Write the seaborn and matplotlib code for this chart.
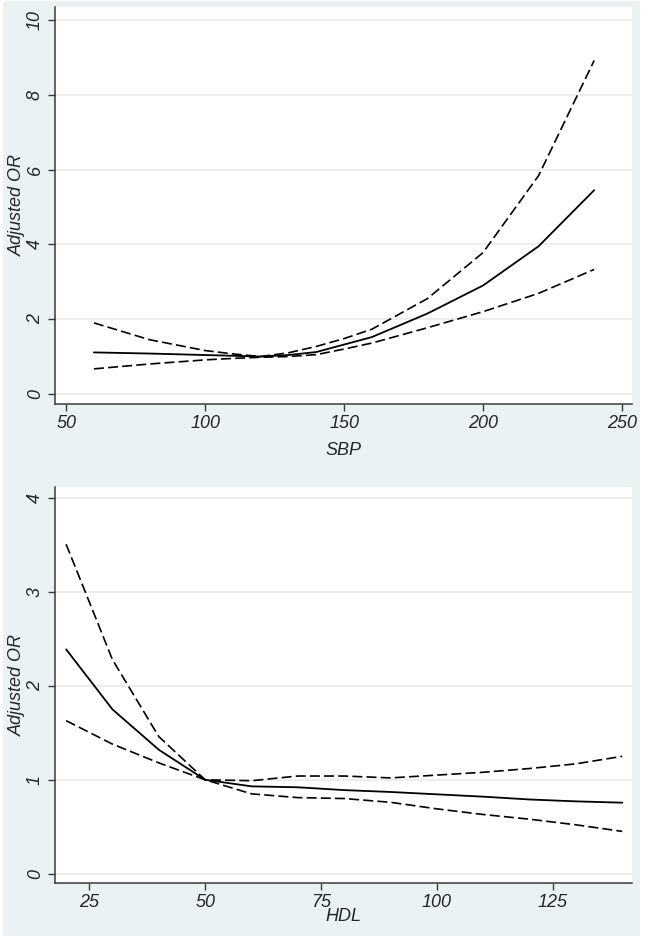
import numpy as np
import pandas as pd
import seaborn as sns
import matplotlib.pyplot as plt
from matplotlib.patches import Rectangle

## data
sbp_x = [60, 80, 100, 110, 120, 130, 140, 150, 160, 180, 200, 220, 240]
sbp_or = [1.11, 1.08, 1.04, 1.02, 1.00, 1.04, 1.12, 1.32, 1.52, 2.15, 2.90, 3.95, 5.45]
sbp_upper = [1.90, 1.45, 1.16, 1.07, 1.00, 1.10, 1.27, 1.48, 1.73, 2.55, 3.78, 5.84, 8.92]
sbp_lower = [0.67, 0.80, 0.91, 0.95, 0.98, 1.00, 1.05, 1.20, 1.36, 1.77, 2.20, 2.69, 3.33]

hdl_x = [20, 30, 40, 50, 60, 70, 80, 90, 100, 110, 120, 130, 140]
hdl_or = [2.39, 1.75, 1.32, 1.00, 0.93, 0.92, 0.89, 0.87, 0.845, 0.82, 0.79, 0.77, 0.756]
hdl_upper = [3.51, 2.28, 1.46, 1.00, 0.99, 1.04, 1.04, 1.02, 1.05, 1.08, 1.12, 1.17, 1.25]
hdl_lower = [1.63, 1.38, 1.18, 1.00, 0.85, 0.81, 0.80, 0.76, 0.69, 0.63, 0.58, 0.52, 0.45]

sbp_ticks = [50, 100, 150, 200, 250]
sbp_yticks = [0, 2, 4, 6, 8, 10]
hdl_ticks = [25, 50, 75, 100, 125]
hdl_yticks = [0, 1, 2, 3, 4]

bg = '#EAF2F3'
grid_col = '#E6EEF0'
axis_col = '#3A3A3A'

sns.set_style('white')
plt.rcParams['font.family'] = ['Liberation Sans', 'DejaVu Sans']

fig = plt.figure(figsize=(6.47, 9.40), dpi=100)
fig.patch.set_facecolor('white')
fig.patches.append(Rectangle((3 / 647, 4 / 940), 637 / 647, 935 / 940,
                             transform=fig.transFigure, facecolor=bg,
                             edgecolor='none', zorder=-10))

ax1 = fig.add_axes([55 / 647, 1 - 404 / 940, 577 / 647, 397 / 940])
ax2 = fig.add_axes([55 / 647, 1 - 883 / 940, 577 / 647, 396 / 940])

df_sbp = pd.DataFrame({'x': sbp_x, 'or': sbp_or, 'up': sbp_upper, 'lo': sbp_lower})
df_hdl = pd.DataFrame({'x': hdl_x, 'or': hdl_or, 'up': hdl_upper, 'lo': hdl_lower})

def dibujar(ax, df, xlabel, xticks, yticks, xlim, ylim, labelpad):
    ax.set_facecolor('white')
    for y in yticks:
        ax.axhline(y, color=grid_col, lw=1.3, zorder=0)
    sns.lineplot(data=df, x='x', y='or', ax=ax, color='black', lw=1.3, zorder=3)
    for col in ['up', 'lo']:
        sns.lineplot(data=df, x='x', y=col, ax=ax, color='black', lw=1.2,
                     dashes=False, zorder=3).lines[-1].set_dashes((6, 2.5))
    ax.set_xlim(*xlim)
    ax.set_ylim(*ylim)
    ax.set_xticks(xticks)
    ax.set_yticks(yticks)
    ax.set_xticklabels([str(t) for t in xticks], fontsize=13, style='italic')
    ax.set_yticklabels([str(t) for t in yticks], fontsize=13, style='italic',
                       rotation=90, va='center')
    ax.set_xlabel(xlabel, fontsize=13, style='italic', labelpad=labelpad)
    ax.set_ylabel('Adjusted OR', fontsize=13, style='italic', labelpad=1)
    ax.tick_params(axis='both', direction='out', length=5, width=1,
                   color=axis_col, pad=3, left=True, bottom=True)
    for s in ['top', 'right']:
        ax.spines[s].set_visible(False)
    for s in ['left', 'bottom']:
        ax.spines[s].set_color(axis_col)
        ax.spines[s].set_linewidth(1.1)

dibujar(ax1, df_sbp, 'SBP', sbp_ticks, sbp_yticks, (46, 253.6), (-0.27, 10.35), 7)
dibujar(ax2, df_hdl, 'HDL', hdl_ticks, hdl_yticks, (17.6, 142.1), (-0.10, 4.12), -2)

plt.savefig('out.png', dpi=100, facecolor=fig.get_facecolor())
